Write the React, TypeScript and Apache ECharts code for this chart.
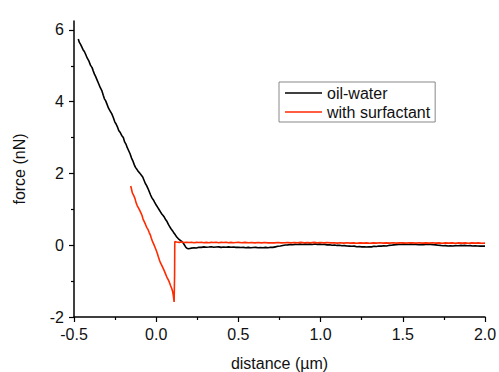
import React, { useEffect, useRef } from "react";
import * as echarts from "echarts";

const seriesNames = ["oil-water", "with surfactant"];
const xTickStep = 0.5;
const yMajorTicks = [-2, 0, 2, 4, 6];
const yMinorTicks = [-1, 1, 3, 5];

// oil-water curve: [distance (µm), force (nN)]
const oilWater: [number, number][] = [
  [-0.474, 5.75], [-0.468, 5.66], [-0.46, 5.6], [-0.452, 5.52], [-0.445, 5.45], [-0.437, 5.4],
  [-0.43, 5.33], [-0.42, 5.22], [-0.41, 5.14], [-0.4, 5.02], [-0.39, 4.95], [-0.383, 4.86],
  [-0.375, 4.76], [-0.368, 4.7], [-0.36, 4.61], [-0.35, 4.5], [-0.34, 4.39], [-0.33, 4.3],
  [-0.322, 4.18], [-0.315, 4.08], [-0.308, 4.03], [-0.3, 3.94], [-0.29, 3.82], [-0.28, 3.74],
  [-0.27, 3.66], [-0.261, 3.56], [-0.252, 3.44], [-0.244, 3.38], [-0.236, 3.3], [-0.228, 3.2],
  [-0.22, 3.15], [-0.21, 3.06], [-0.2, 3.0], [-0.192, 2.88], [-0.184, 2.82], [-0.176, 2.72],
  [-0.168, 2.64], [-0.159, 2.55], [-0.15, 2.43], [-0.14, 2.33], [-0.133, 2.24], [-0.126, 2.17],
  [-0.118, 2.12], [-0.11, 2.06], [-0.1, 2.01], [-0.09, 1.95], [-0.082, 1.9], [-0.074, 1.81],
  [-0.066, 1.72], [-0.058, 1.66], [-0.05, 1.58], [-0.042, 1.49], [-0.034, 1.4], [-0.026, 1.32],
  [-0.018, 1.27], [-0.01, 1.2], [0.0, 1.12], [0.01, 1.05], [0.018, 0.99], [0.026, 0.93],
  [0.034, 0.87], [0.042, 0.83], [0.05, 0.78], [0.058, 0.71], [0.066, 0.66], [0.074, 0.58],
  [0.082, 0.52], [0.09, 0.46], [0.1, 0.4], [0.108, 0.34], [0.116, 0.29], [0.125, 0.23],
  [0.135, 0.18], [0.145, 0.14], [0.155, 0.11], [0.163, 0.07], [0.17, 0.02], [0.178, -0.04],
  [0.186, -0.08], [0.195, -0.1], [0.205, -0.09], [0.215, -0.08], [0.23, -0.07], [0.245, -0.075],
  [0.26, -0.055], [0.275, -0.06], [0.29, -0.045], [0.305, -0.055], [0.32, -0.05], [0.335, -0.04],
  [0.35, -0.055], [0.365, -0.05], [0.38, -0.045], [0.395, -0.06], [0.41, -0.05], [0.425, -0.055],
  [0.44, -0.045], [0.455, -0.055], [0.47, -0.05], [0.485, -0.06], [0.5, -0.055], [0.515, -0.065],
  [0.53, -0.06], [0.545, -0.07], [0.56, -0.06], [0.575, -0.07], [0.59, -0.065], [0.605, -0.06],
  [0.62, -0.07], [0.635, -0.065], [0.65, -0.07], [0.665, -0.06], [0.68, -0.07], [0.695, -0.055],
  [0.71, -0.06], [0.725, -0.045], [0.74, -0.03], [0.755, -0.02], [0.77, -0.005], [0.785, 0.005],
  [0.8, 0.01], [0.815, 0.02], [0.83, 0.015], [0.845, 0.025], [0.86, 0.02], [0.875, 0.03],
  [0.89, 0.02], [0.905, 0.03], [0.92, 0.025], [0.935, 0.03], [0.95, 0.02], [0.965, 0.035],
  [0.98, 0.025], [0.995, 0.03], [1.01, 0.02], [1.025, 0.025], [1.04, 0.01], [1.055, 0.015],
  [1.07, 0.0], [1.085, 0.005], [1.1, -0.005], [1.115, 0.0], [1.13, -0.015], [1.145, -0.01],
  [1.16, -0.02], [1.175, -0.025], [1.19, -0.03], [1.205, -0.025], [1.22, -0.04], [1.235, -0.035],
  [1.25, -0.045], [1.265, -0.04], [1.28, -0.05], [1.295, -0.04], [1.31, -0.045], [1.325, -0.03],
  [1.34, -0.035], [1.355, -0.02], [1.37, -0.025], [1.385, -0.015], [1.4, -0.02], [1.415, -0.005],
  [1.43, 0.0], [1.445, 0.01], [1.46, 0.015], [1.475, 0.025], [1.49, 0.02], [1.505, 0.03],
  [1.52, 0.025], [1.535, 0.02], [1.55, 0.03], [1.565, 0.02], [1.58, 0.025], [1.595, 0.015],
  [1.61, 0.02], [1.625, 0.015], [1.64, 0.025], [1.655, 0.02], [1.67, 0.025], [1.685, 0.015],
  [1.7, 0.01], [1.715, 0.0], [1.73, -0.005], [1.745, -0.015], [1.76, -0.01], [1.775, -0.02],
  [1.79, -0.015], [1.805, -0.02], [1.82, -0.01], [1.835, -0.015], [1.85, -0.005], [1.865, -0.01],
  [1.88, -0.005], [1.895, -0.015], [1.91, -0.01], [1.925, -0.02], [1.94, -0.015], [1.955, -0.02],
  [1.97, -0.025], [1.985, -0.02], [2.0, -0.025],
];

// with surfactant curve: [distance (µm), force (nN)]
const withSurfactant: [number, number][] = [
  [-0.155, 1.65], [-0.15, 1.56], [-0.145, 1.46], [-0.138, 1.4], [-0.129, 1.3], [-0.122, 1.18],
  [-0.115, 1.1], [-0.108, 1.04], [-0.1, 0.97], [-0.093, 0.9], [-0.086, 0.83], [-0.08, 0.73],
  [-0.072, 0.65], [-0.065, 0.58], [-0.058, 0.5], [-0.05, 0.44], [-0.043, 0.36], [-0.036, 0.29],
  [-0.03, 0.2], [-0.022, 0.1], [-0.015, 0.03], [-0.008, -0.05], [0.0, -0.14], [0.007, -0.23],
  [0.013, -0.32], [0.02, -0.42], [0.027, -0.5], [0.034, -0.56], [0.041, -0.63], [0.048, -0.7],
  [0.056, -0.79], [0.064, -0.88], [0.072, -0.95], [0.08, -1.03], [0.087, -1.12], [0.094, -1.2],
  [0.1, -1.29], [0.104, -1.4], [0.107, -1.5], [0.109, -1.58], [0.112, -0.8], [0.113, 0.1],
  [0.125, 0.09], [0.14, 0.08], [0.155, 0.09], [0.17, 0.075], [0.185, 0.085], [0.2, 0.075],
  [0.215, 0.085], [0.23, 0.07], [0.245, 0.08], [0.26, 0.075], [0.275, 0.085], [0.29, 0.07],
  [0.305, 0.08], [0.32, 0.07], [0.335, 0.08], [0.35, 0.075], [0.365, 0.085], [0.38, 0.07],
  [0.395, 0.08], [0.41, 0.075], [0.425, 0.085], [0.44, 0.07], [0.455, 0.08], [0.47, 0.07],
  [0.485, 0.075], [0.5, 0.08], [0.52, 0.07], [0.54, 0.08], [0.56, 0.07], [0.58, 0.075],
  [0.6, 0.065], [0.62, 0.075], [0.64, 0.065], [0.66, 0.075], [0.68, 0.065], [0.7, 0.07],
  [0.72, 0.065], [0.74, 0.075], [0.76, 0.065], [0.78, 0.07], [0.8, 0.075], [0.82, 0.065],
  [0.84, 0.075], [0.86, 0.07], [0.88, 0.08], [0.9, 0.07], [0.92, 0.075], [0.94, 0.07],
  [0.96, 0.08], [0.98, 0.07], [1.0, 0.075], [1.02, 0.065], [1.04, 0.075], [1.06, 0.065],
  [1.08, 0.07], [1.1, 0.06], [1.12, 0.07], [1.14, 0.06], [1.16, 0.07], [1.18, 0.06],
  [1.2, 0.065], [1.22, 0.055], [1.24, 0.065], [1.26, 0.06], [1.28, 0.065], [1.3, 0.055],
  [1.32, 0.065], [1.34, 0.06], [1.36, 0.07], [1.38, 0.06], [1.4, 0.065], [1.42, 0.06],
  [1.44, 0.07], [1.46, 0.06], [1.48, 0.065], [1.5, 0.07], [1.52, 0.06], [1.54, 0.07],
  [1.56, 0.065], [1.58, 0.06], [1.6, 0.07], [1.62, 0.06], [1.64, 0.065], [1.66, 0.06],
  [1.68, 0.07], [1.7, 0.06], [1.72, 0.065], [1.74, 0.055], [1.76, 0.065], [1.78, 0.06],
  [1.8, 0.065], [1.82, 0.055], [1.84, 0.065], [1.86, 0.06], [1.88, 0.065], [1.9, 0.055],
  [1.92, 0.065], [1.94, 0.06], [1.96, 0.065], [1.98, 0.055], [2.0, 0.06],
];

const FONT = "'Liberation Sans', Arial, sans-serif";
const TEXT = "#111";

export default function App() {
  const ref = useRef<HTMLDivElement>(null);
  useEffect(() => {
    if (!ref.current) return;
    const chart = echarts.init(ref.current, null, { renderer: "svg" });
    chart.setOption({
      animation: false,
      backgroundColor: "#fff",
      textStyle: { fontFamily: FONT },
      grid: {
        left: 74,
        right: 14,
        top: 21,
        bottom: 55,
        containLabel: false,
        outerBoundsMode: "none",
      },
      legend: {
        data: seriesNames,
        orient: "vertical",
        left: 279,
        top: 82,
        icon: "rect",
        itemWidth: 37,
        itemHeight: 1.6,
        itemGap: 3,
        padding: [3, 5, 2, 6],
        borderColor: "#888",
        borderWidth: 1,
        textStyle: { fontFamily: FONT, fontSize: 16, color: TEXT, lineHeight: 16 },
      },
      xAxis: {
        type: "value",
        min: -0.5,
        max: 2.0,
        interval: xTickStep,
        name: "distance (µm)",
        nameLocation: "middle",
        nameGap: 38,
        nameTextStyle: { fontFamily: FONT, fontSize: 16, color: TEXT },
        axisLine: { show: true, onZero: false, lineStyle: { color: "#000", width: 1.5 } },
        axisTick: { show: true, inside: false, length: 5, lineStyle: { color: "#000", width: 1.2 } },
        minorTick: { show: true, splitNumber: 2, length: 3, lineStyle: { color: "#000", width: 1.2 } },
        axisLabel: {
          fontFamily: FONT,
          fontSize: 16,
          color: TEXT,
          margin: 9,
          formatter: (v: number) => v.toFixed(1),
        },
        splitLine: { show: false },
      },
      yAxis: [
        {
          type: "value",
          min: -2,
          max: 6.25,
          position: "left",
          name: "force (nN)",
          nameLocation: "middle",
          nameGap: 47,
          nameTextStyle: { fontFamily: FONT, fontSize: 16, color: TEXT },
          axisLine: { show: true, onZero: false, lineStyle: { color: "#000", width: 1.5 } },
          axisTick: {
            show: true,
            inside: false,
            length: 5,
            customValues: yMajorTicks,
            lineStyle: { color: "#000", width: 1.2 },
          },
          axisLabel: {
            fontFamily: FONT,
            fontSize: 16,
            color: TEXT,
            margin: 10,
            customValues: yMajorTicks,
            formatter: (v: number) => String(v),
          },
          splitLine: { show: false },
        },
        {
          type: "value",
          min: -2,
          max: 6.25,
          position: "left",
          offset: 0,
          axisLine: { show: false, onZero: false },
          axisTick: {
            show: true,
            inside: false,
            length: 3,
            customValues: yMinorTicks,
            lineStyle: { color: "#000", width: 1.2 },
          },
          axisLabel: { show: false },
          splitLine: { show: false },
        },
      ],
      series: [
        {
          name: seriesNames[0],
          type: "line",
          data: oilWater,
          showSymbol: false,
          symbol: "none",
          lineStyle: { color: "#000", width: 1.6 },
          itemStyle: { color: "#000" },
          z: 2,
        },
        {
          name: seriesNames[1],
          type: "line",
          data: withSurfactant,
          showSymbol: false,
          symbol: "none",
          lineStyle: { color: "#ff2a00", width: 1.6 },
          itemStyle: { color: "#ff2a00" },
          z: 3,
        },
      ],
    });
    return () => chart.dispose();
  }, []);
  return (
    <div
      ref={ref}
      style={{ position: "fixed", left: 0, top: 0, width: 499, height: 372, background: "#fff" }}
    />
  );
}
